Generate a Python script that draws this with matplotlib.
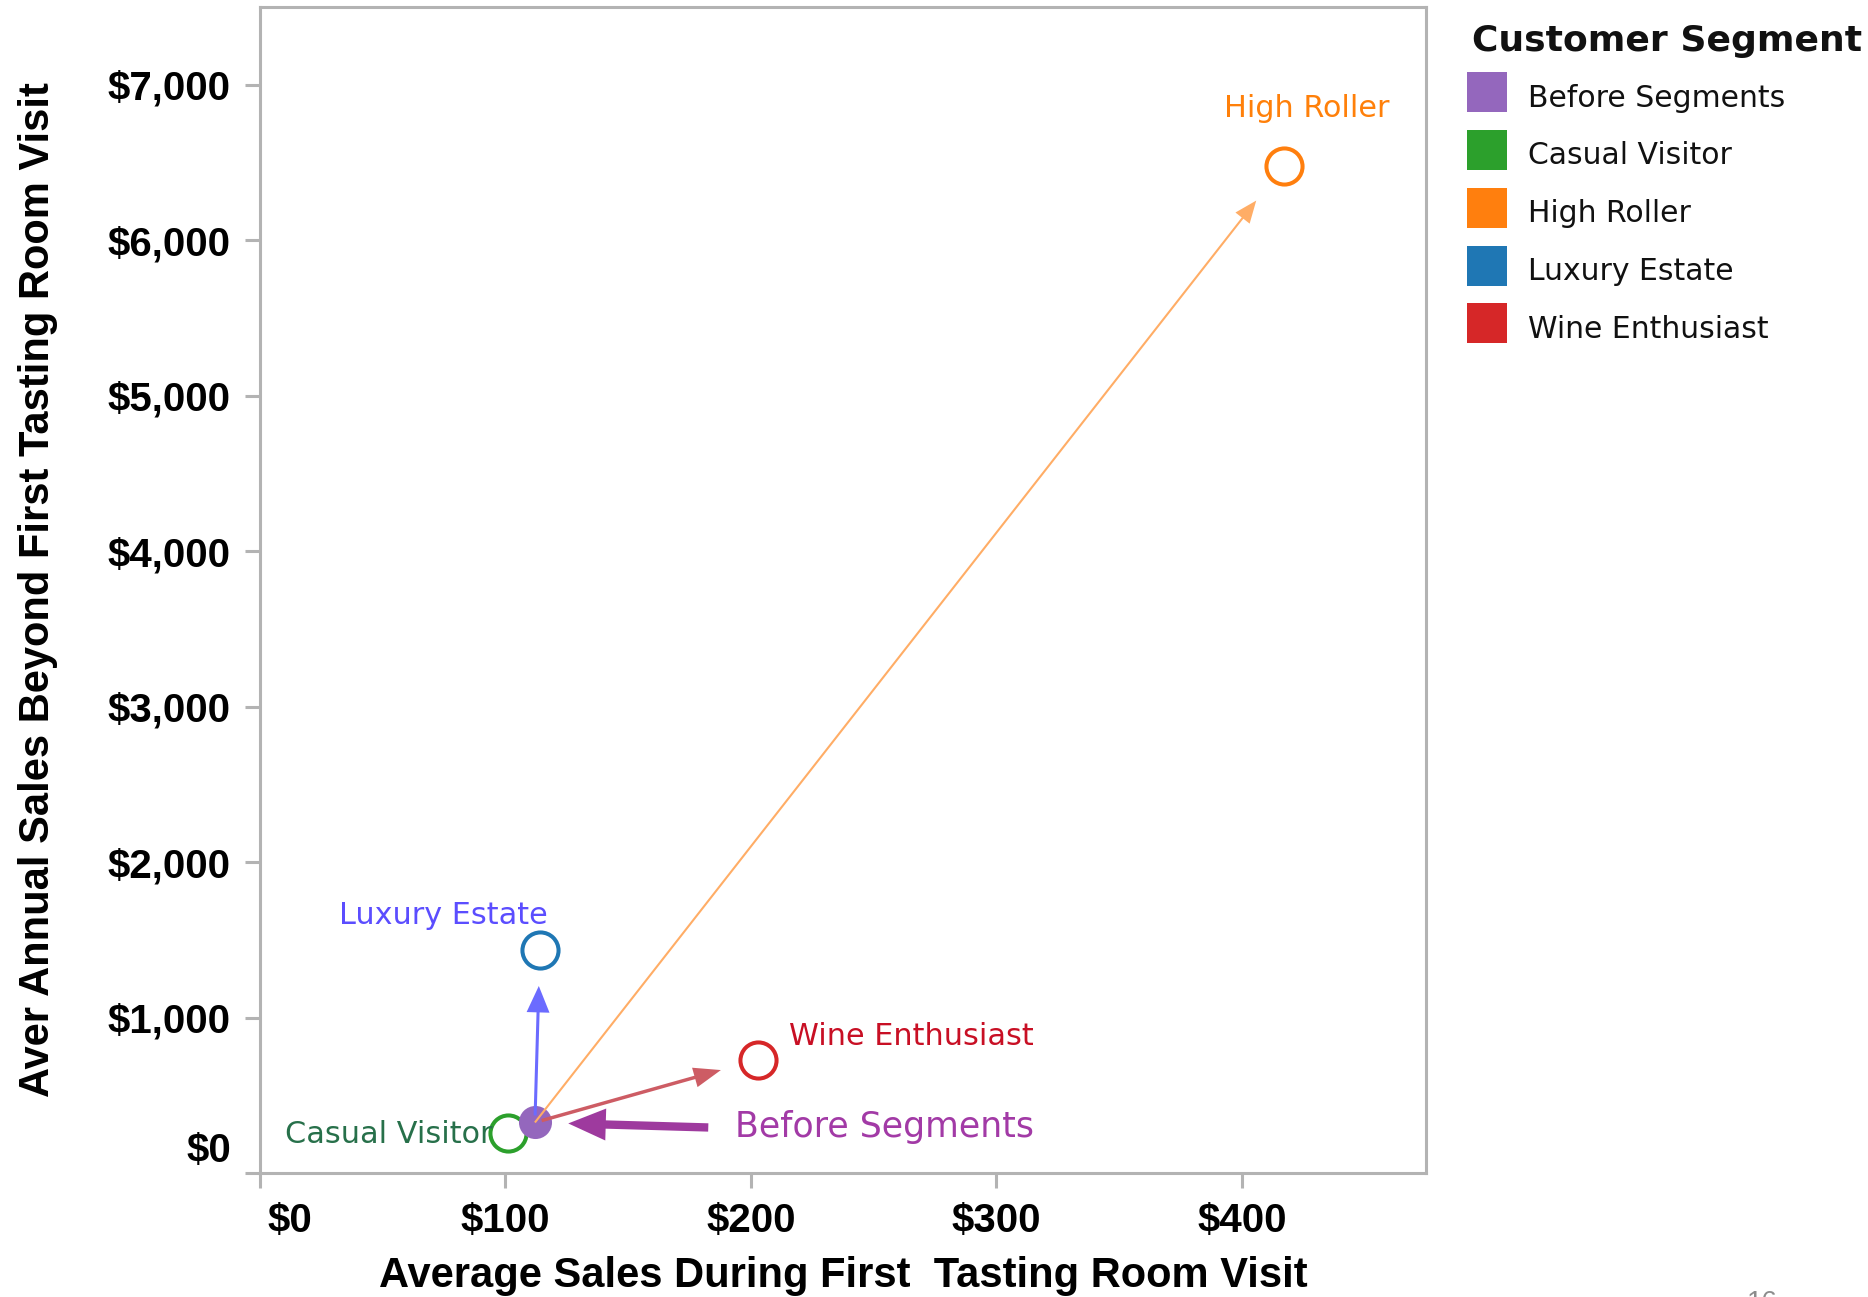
import matplotlib
matplotlib.use("Agg")
import matplotlib.pyplot as plt
from matplotlib.patches import Rectangle
from matplotlib.transforms import ScaledTranslation

# ---- data -------------------------------------------------------------
segments = ["Before Segments", "Casual Visitor", "High Roller",
            "Luxury Estate", "Wine Enthusiast"]
first_visit_sales = [112, 101, 417, 114, 203]          # $ per first visit
annual_sales_beyond = [325, 260, 6480, 1435, 730]      # $ per year afterwards

x_ticks = [0, 100, 200, 300, 400]
x_tick_labels = ["$0", "$100", "$200", "$300", "$400"]
y_ticks = [0, 1000, 2000, 3000, 4000, 5000, 6000, 7000]
y_tick_labels = ["$0", "$1,000", "$2,000", "$3,000", "$4,000",
                 "$5,000", "$6,000", "$7,000"]

x_title = "Average Sales During First  Tasting Room Visit"
y_title = "Aver Annual Sales Beyond First Tasting Room Visit"
legend_title = "Customer Segment"

# ---- styling ----------------------------------------------------------
seg_color = {
    "Before Segments": "#9467bd",
    "Casual Visitor": "#2ca02c",
    "High Roller": "#ff7f0e",
    "Luxury Estate": "#1f77b4",
    "Wine Enthusiast": "#d62728",
}
text_color = {
    "Before Segments": "#a23aa6",
    "Casual Visitor": "#27704a",
    "High Roller": "#ff800a",
    "Luxury Estate": "#5b4dff",
    "Wine Enthusiast": "#c80f24",
}
# label placement: (dx, dy) in points, horizontal alignment
label_offset = {
    "Casual Visitor": ((-11, -7.7), "right"),
    "High Roller": ((17, 34.8), "center"),
    "Luxury Estate": ((-69.6, 18.5), "center"),
    "Wine Enthusiast": ((22.1, 10.1), "left"),
}
# arrows from the starting point to each segment
arrow_style = {
    "High Roller": ("#ffad66", "simple,head_length=16,head_width=13,tail_width=1.5", 0, 32),
    "Luxury Estate": ("#6b6bff", "simple,head_length=19,head_width=16.5,tail_width=2.2", 5, 26),
    "Wine Enthusiast": ("#cd5c64", "simple,head_length=19.5,head_width=14.5,tail_width=2.5", 5, 28),
}

W, H = 1868, 1297
fig = plt.figure(figsize=(W / 100, H / 100), dpi=100)
ax = fig.add_axes([260 / W, 1 - 1173 / H, 1166 / W, 1166 / H])

ax.set_xlim(0, 475)
ax.set_ylim(0, 7500)

spine_gray = "#b3b3b3"
for s in ax.spines.values():
    s.set_color(spine_gray)
    s.set_linewidth(2.2)

tick_font = dict(fontsize=29, fontweight="bold", family="Liberation Sans")
ax.set_xticks(x_ticks)
ax.set_xticklabels(x_tick_labels, **tick_font)
ax.set_yticks(y_ticks)
ax.set_yticklabels(y_tick_labels, **tick_font)
ax.tick_params(length=11, width=2.2, color=spine_gray, pad=10)

# nudge the "$0" labels inward so they sit clear of the corner
for tick in ax.xaxis.get_major_ticks():
    if tick.get_loc() == 0:
        tick.label1.set_transform(tick.label1.get_transform()
                                  + ScaledTranslation(0.295, 0, fig.dpi_scale_trans))
for tick in ax.yaxis.get_major_ticks():
    if tick.get_loc() == 0:
        tick.label1.set_transform(tick.label1.get_transform()
                                  + ScaledTranslation(0, 0.26, fig.dpi_scale_trans))

ax.set_xlabel(x_title, fontsize=30, fontweight="bold", family="Liberation Sans")
ax.xaxis.set_label_coords(0.5, -0.088)
ax.xaxis.label.set_va("center")
ax.set_ylabel(y_title, fontsize=30, fontweight="bold", family="Liberation Sans")
ax.yaxis.set_label_coords(-0.1907, 0.5)
ax.yaxis.label.set_va("center")

pts = dict(zip(segments, zip(first_visit_sales, annual_sales_beyond)))
start = pts["Before Segments"]

# segment markers
for seg in segments:
    x, y = pts[seg]
    if seg == "Before Segments":
        ax.plot(x, y, "o", ms=23.8, mfc=seg_color[seg], mec="none", zorder=4)
    else:
        ax.plot(x, y, "o", ms=26, mfc="none", mec=seg_color[seg], mew=2.9, zorder=3)

# arrows from the starting point
for seg, (col, style, sa, sb) in arrow_style.items():
    ax.annotate("", xy=pts[seg], xytext=start,
                arrowprops=dict(arrowstyle=style, mutation_scale=1, color=col,
                                lw=0, shrinkA=sa, shrinkB=sb),
                zorder=5)

# segment labels
for seg, ((dx, dy), ha) in label_offset.items():
    ax.annotate(seg, xy=pts[seg], xytext=(dx, dy), textcoords="offset points",
                ha=ha, va="baseline", fontsize=21.8, family="DejaVu Sans",
                color=text_color[seg], zorder=6)

# callout for the starting point
ax.annotate("", xy=start, xytext=(124.8, -3.6), textcoords="offset points",
            arrowprops=dict(arrowstyle="simple,head_length=27,head_width=23,tail_width=6",
                            mutation_scale=1, color="#9e3a9e", lw=0,
                            shrinkA=0, shrinkB=24),
            zorder=5)
ax.annotate("Before Segments", xy=start, xytext=(144, -10.8),
            textcoords="offset points", ha="left", va="baseline",
            fontsize=25, family="DejaVu Sans",
            color=text_color["Before Segments"], zorder=6)

# legend
fig.text(1471.7 / W, 1 - 50.7 / H, legend_title, ha="left", va="baseline",
         fontsize=26, fontweight="bold", family="DejaVu Sans", color="#111111")
for i, seg in enumerate(segments):
    cy = 92.2 + i * 57.8
    fig.add_artist(Rectangle((1466.7 / W, 1 - (cy + 20) / H), 40 / W, 40 / H,
                             transform=fig.transFigure, color=seg_color[seg], lw=0))
    fig.text(1528.3 / W, 1 - (cy + 14.5) / H, seg, ha="left", va="baseline",
             fontsize=21.5, family="DejaVu Sans", color="#111111")

# page number at the bottom edge
fig.text(1747 / W, 1 - 1290 / H, "16", ha="left", va="top",
         fontsize=20, family="Liberation Sans", color="#8c8c8c")

fig.savefig("out.png", dpi=100)
